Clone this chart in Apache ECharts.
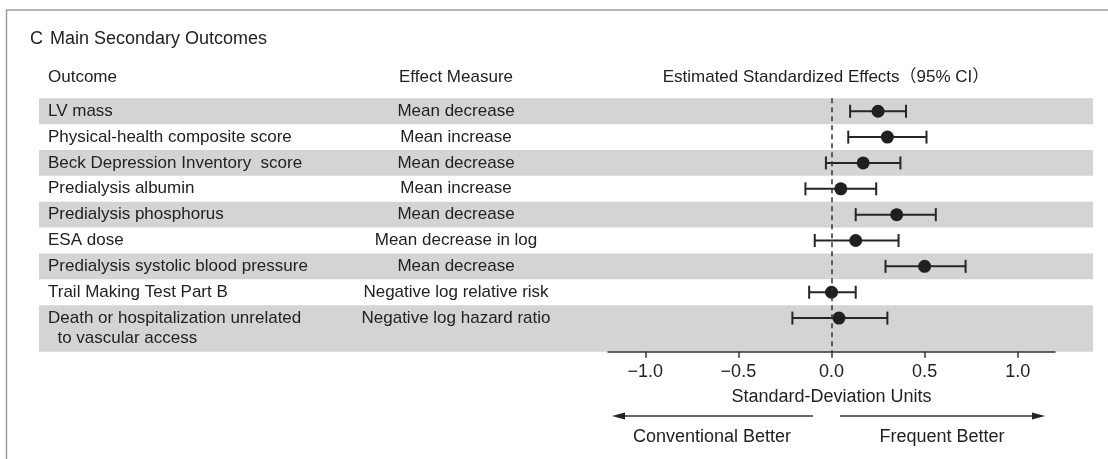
<!DOCTYPE html>
<html>
<head>
<meta charset="utf-8">
<script src="https://cdn.jsdelivr.net/npm/echarts@6/dist/echarts.min.js"></script>
<style>
html,body{margin:0;padding:0;background:#fff;}
#chart{width:1108px;height:459px;}
</style>
</head>
<body>
<div id="chart"></div>
<script>
// ---- data ----
const outcomes = [
  'LV mass',
  'Physical-health composite score',
  'Beck Depression Inventory  score',
  'Predialysis albumin',
  'Predialysis phosphorus',
  'ESA dose',
  'Predialysis systolic blood pressure',
  'Trail Making Test Part B',
  'Death or hospitalization unrelated\n  to vascular access'
];
const measures = [
  'Mean decrease',
  'Mean increase',
  'Mean decrease',
  'Mean increase',
  'Mean decrease',
  'Mean decrease in log',
  'Mean decrease',
  'Negative log relative risk',
  'Negative log hazard ratio'
];
const estimates = [0.25, 0.30, 0.17, 0.05, 0.35, 0.13, 0.50, 0.00, 0.04];
const lowerCI   = [0.10, 0.09, -0.03, -0.14, 0.13, -0.09, 0.29, -0.12, -0.21];
const upperCI   = [0.40, 0.51, 0.37, 0.24, 0.56, 0.36, 0.72, 0.13, 0.30];
const tickValues = [-1.0, -0.5, 0.0, 0.5, 1.0];

// ---- layout ----
const rowHeights = [1, 1, 1, 1, 1, 1, 1, 1, 1.8];
const rowStart = [];
let acc = 0;
rowHeights.forEach(h => { rowStart.push(acc); acc += h; });
const totalRows = acc;
const rowCenter = rowStart.map(s => s + 0.5);

const FONT = "'Liberation Sans', Arial, Helvetica, 'Noto Sans CJK JP', sans-serif";
const INK = '#222222';
const BAND = '#d4d4d4';

const chart = echarts.init(document.getElementById('chart'), null, {renderer: 'canvas'});

const option = {
  backgroundColor: '#ffffff',
  animation: false,
  grid: [
    {left: 608, right: 53, top: 98.3, bottom: 107.3},
    {left: 39, right: 15, top: 98.3, bottom: 107.3}
  ],
  xAxis: [
    {
      gridIndex: 0, type: 'value', min: -1.2, max: 1.2, z: 5,
      axisLine: {show: true, onZero: false, lineStyle: {color: '#333', width: 1.5}},
      axisTick: {show: true, length: 6, customValues: tickValues, lineStyle: {color: '#333', width: 1.5}},
      axisLabel: {
        show: true, customValues: tickValues, margin: 11,
        fontSize: 18, fontFamily: FONT, color: INK,
        formatter: v => v.toFixed(1).replace('-', '\u2212')
      },
      splitLine: {show: false},
      name: 'Standard-Deviation Units',
      nameLocation: 'middle', nameGap: 36,
      nameTextStyle: {fontSize: 18, fontFamily: FONT, color: INK}
    },
    {gridIndex: 1, type: 'value', min: 0, max: 1, show: false}
  ],
  yAxis: [
    {gridIndex: 0, type: 'value', min: 0, max: totalRows, inverse: true, show: false},
    {gridIndex: 1, type: 'value', min: 0, max: totalRows, inverse: true, show: false}
  ],
  series: [
    {
      type: 'custom', xAxisIndex: 1, yAxisIndex: 1, z: 0, silent: true,
      data: rowStart.map((s, i) => [s, s + rowHeights[i], i]).filter(d => d[2] % 2 === 0),
      encode: {y: [0, 1]},
      renderItem: function (params, api) {
        const p0 = api.coord([0, api.value(0)]);
        const p1 = api.coord([1, api.value(1)]);
        return {type: 'rect', shape: {x: p0[0], y: p0[1], width: p1[0] - p0[0], height: p1[1] - p0[1]},
          style: {fill: BAND}};
      }
    },
    {
      type: 'custom', xAxisIndex: 1, yAxisIndex: 1, z: 1, silent: true,
      data: rowCenter.map((c, i) => [c, i]),
      encode: {y: 0},
      renderItem: function (params, api) {
        const p = api.coord([0, api.value(0)]);
        const idx = api.value(1);
        return {
          type: 'group', children: [
            {type: 'text', x: p[0] + 9, y: p[1] - 10,
              style: {text: outcomes[idx], fontSize: 17, fontFamily: FONT, fill: INK,
                lineHeight: 20, align: 'left', verticalAlign: 'top'}},
            {type: 'text', x: p[0] + 417, y: p[1] - 10,
              style: {text: measures[idx], fontSize: 17, fontFamily: FONT, fill: INK,
                lineHeight: 20, align: 'center', verticalAlign: 'top'}}
          ]
        };
      }
    },
    {
      type: 'custom', xAxisIndex: 0, yAxisIndex: 0, z: 3, silent: true,
      data: rowCenter.map((c, i) => [c, lowerCI[i], upperCI[i]]),
      encode: {x: [1, 2], y: 0},
      renderItem: function (params, api) {
        const a = api.coord([api.value(1), api.value(0)]);
        const b = api.coord([api.value(2), api.value(0)]);
        const h = 6.5;
        const st = {stroke: '#262626', lineWidth: 2};
        return {
          type: 'group', children: [
            {type: 'line', shape: {x1: a[0], y1: a[1], x2: b[0], y2: b[1]}, style: st},
            {type: 'line', shape: {x1: a[0], y1: a[1] - h, x2: a[0], y2: a[1] + h}, style: st},
            {type: 'line', shape: {x1: b[0], y1: b[1] - h, x2: b[0], y2: b[1] + h}, style: st}
          ]
        };
      }
    },
    {
      type: 'scatter', xAxisIndex: 0, yAxisIndex: 0, z: 4, silent: true,
      symbol: 'circle', symbolSize: 13,
      itemStyle: {color: '#231f20', opacity: 1},
      data: rowCenter.map((c, i) => [estimates[i], c]),
      markLine: {
        silent: true, symbol: 'none', animation: false,
        label: {show: false},
        lineStyle: {type: [5, 4], color: '#333', width: 1.5},
        data: [{xAxis: 0}]
      }
    }
  ],
  graphic: [
    {type: 'line', shape: {x1: 6.5, y1: 10, x2: 6.5, y2: 459}, style: {stroke: '#a0a0a0', lineWidth: 1.5}},
    {type: 'line', shape: {x1: 6, y1: 10, x2: 1108, y2: 10}, style: {stroke: '#a0a0a0', lineWidth: 1.5}},
    {type: 'text', x: 30, y: 39, style: {text: 'C', fontSize: 18, fontFamily: FONT, fill: INK, verticalAlign: 'middle'}},
    {type: 'text', x: 50, y: 39, style: {text: 'Main Secondary Outcomes', fontSize: 18, fontFamily: FONT, fill: INK, verticalAlign: 'middle'}},
    {type: 'text', x: 48, y: 77, style: {text: 'Outcome', fontSize: 17, fontFamily: FONT, fill: INK, verticalAlign: 'middle'}},
    {type: 'text', x: 456, y: 77, style: {text: 'Effect Measure', fontSize: 17, fontFamily: FONT, fill: INK, align: 'center', verticalAlign: 'middle'}},
    {type: 'text', x: 826, y: 77, style: {text: 'Estimated Standardized Effects\uFF0895% CI\uFF09', fontSize: 17, fontFamily: FONT, fill: INK, align: 'center', verticalAlign: 'middle'}},
    // arrows
    {type: 'line', shape: {x1: 622, y1: 416, x2: 813, y2: 416}, style: {stroke: '#333', lineWidth: 1.5}},
    {type: 'polygon', shape: {points: [[612, 416], [625, 412.5], [625, 419.5]]}, style: {fill: '#222'}},
    {type: 'line', shape: {x1: 840, y1: 416, x2: 1033, y2: 416}, style: {stroke: '#333', lineWidth: 1.5}},
    {type: 'polygon', shape: {points: [[1045, 416], [1032, 412.5], [1032, 419.5]]}, style: {fill: '#222'}},
    {type: 'text', x: 712, y: 437, style: {text: 'Conventional Better', fontSize: 18, fontFamily: FONT, fill: INK, align: 'center', verticalAlign: 'middle'}},
    {type: 'text', x: 942, y: 437, style: {text: 'Frequent Better', fontSize: 18, fontFamily: FONT, fill: INK, align: 'center', verticalAlign: 'middle'}}
  ]
};
chart.setOption(option);
</script>
</body>
</html>
